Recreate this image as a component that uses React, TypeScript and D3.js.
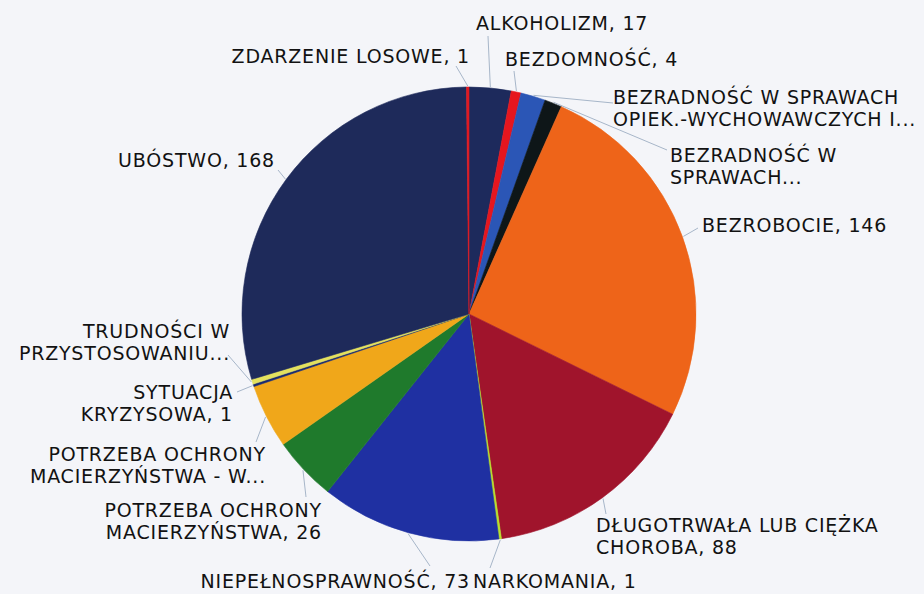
import React from "react";
import * as d3 from "d3";

const categories = [
  "ALKOHOLIZM",
  "BEZDOMNOŚĆ",
  "BEZRADNOŚĆ W SPRAWACH OPIEK.-WYCHOWAWCZYCH I...",
  "BEZRADNOŚĆ W SPRAWACH...",
  "BEZROBOCIE",
  "DŁUGOTRWAŁA LUB CIĘŻKA CHOROBA",
  "NARKOMANIA",
  "NIEPEŁNOSPRAWNOŚĆ",
  "POTRZEBA OCHRONY MACIERZYŃSTWA",
  "POTRZEBA OCHRONY MACIERZYŃSTWA - W...",
  "SYTUACJA KRYZYSOWA",
  "TRUDNOŚCI W PRZYSTOSOWANIU...",
  "UBÓSTWO",
  "ZDARZENIE LOSOWE",
];
const values = [17, 4, 10, 7, 146, 88, 1, 73, 26, 26, 1, 2, 168, 1];
const labelLines = [
  ["ALKOHOLIZM, 17"],
  ["BEZDOMNOŚĆ, 4"],
  ["BEZRADNOŚĆ W SPRAWACH", "OPIEK.-WYCHOWAWCZYCH I..."],
  ["BEZRADNOŚĆ W", "SPRAWACH..."],
  ["BEZROBOCIE, 146"],
  ["DŁUGOTRWAŁA LUB CIĘŻKA", "CHOROBA, 88"],
  ["NARKOMANIA, 1"],
  ["NIEPEŁNOSPRAWNOŚĆ, 73"],
  ["POTRZEBA OCHRONY", "MACIERZYŃSTWA, 26"],
  ["POTRZEBA OCHRONY", "MACIERZYŃSTWA - W..."],
  ["SYTUACJA", "KRYZYSOWA, 1"],
  ["TRUDNOŚCI W", "PRZYSTOSOWANIU..."],
  ["UBÓSTWO, 168"],
  ["ZDARZENIE LOSOWE, 1"],
];
const colors = [
  "#1d2a5c", "#e6161e", "#2b56b6", "#0e1618", "#ee6419", "#a0142c", "#b8e02c",
  "#1f30a2", "#1f7a2c", "#f0a71a", "#1a2a70", "#e4e15e", "#1e2a5a", "#e01a22",
];

// layout: label anchor position (x, first baseline y), text anchor, leader line end
const labelLayout = [
  { x: 476, y: 30, anchor: "start", lx: 488, ly: 36 },
  { x: 505, y: 66, anchor: "start", lx: 514, ly: 71 },
  { x: 613, y: 104, anchor: "start", lx: 613, ly: 103 },
  { x: 670, y: 162, anchor: "start", lx: 667, ly: 150 },
  { x: 702, y: 232, anchor: "start", lx: 698, ly: 228 },
  { x: 596, y: 532, anchor: "start", lx: 606, ly: 514 },
  { x: 473, y: 588, anchor: "start", lx: 490, ly: 568 },
  { x: 470, y: 588, anchor: "end", lx: 430, ly: 566 },
  { x: 322, y: 517, anchor: "end", lx: 306, ly: 497 },
  { x: 266, y: 461, anchor: "end", lx: 256, ly: 442 },
  { x: 233, y: 399, anchor: "end", lx: 237, ly: 392 },
  { x: 230, y: 338, anchor: "end", lx: 228, ly: 355 },
  { x: 275, y: 167, anchor: "end", lx: 278, ly: 170 },
  { x: 470, y: 63, anchor: "end", lx: 456, ly: 66 },
];

const W = 924;
const H = 594;
const cx = 469;
const cy = 314;
const R = 227;

export default function App() {
  const pie = d3
    .pie<number>()
    .sort(null)
    .value((d) => d)
    .startAngle(0)
    .endAngle(2 * Math.PI);
  const arcs = pie(values);
  const arc = d3.arc<d3.PieArcDatum<number>>().innerRadius(0).outerRadius(R);

  return (
    <svg
      width={W}
      height={H}
      style={{ position: "absolute", left: 0, top: 0, display: "block" }}
      fontFamily="'DejaVu Sans', sans-serif"
    >
      <rect x={0} y={0} width={W} height={H} fill="#f4f5f9" />
      <g transform={`translate(${cx},${cy})`}>
        {arcs.map((a, i) => (
          <path key={i} d={arc(a) || ""} fill={colors[i]} stroke={colors[i]} strokeWidth={0.6} />
        ))}
      </g>
      {arcs.map((a, i) => {
        const m = (a.startAngle + a.endAngle) / 2;
        const x1 = cx + Math.sin(m) * (R + 1);
        const y1 = cy - Math.cos(m) * (R + 1);
        const L = labelLayout[i];
        return (
          <line key={"l" + i} x1={x1} y1={y1} x2={L.lx} y2={L.ly} stroke="#a7b6c9" strokeWidth={1} />
        );
      })}
      {labelLines.map((lines, i) => {
        const L = labelLayout[i];
        return (
          <text key={"t" + i} x={L.x} y={L.y} textAnchor={L.anchor as any} fontSize={19} letterSpacing={0.8} fill="#121212">
            {lines.map((s, j) => (
              <tspan key={j} x={L.x} dy={j === 0 ? 0 : 21.5}>
                {s}
              </tspan>
            ))}
          </text>
        );
      })}
    </svg>
  );
}
